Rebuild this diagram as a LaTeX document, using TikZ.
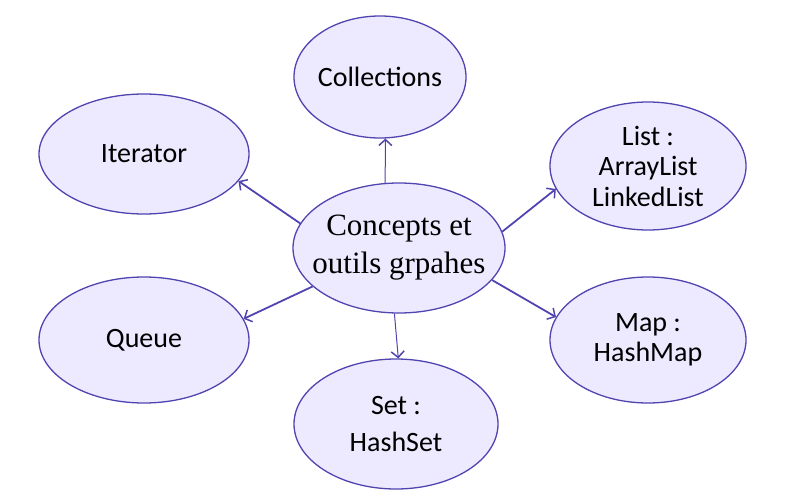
\documentclass[tikz,border=0pt]{standalone}
\usepackage{fontspec}
\setmainfont{Liberation Serif}
\newfontfamily\labfont{Carlito}
\usetikzlibrary{arrows.meta,shapes.geometric}
\definecolor{edgecol}{RGB}{80,68,176}
\definecolor{fillcol}{RGB}{237,233,254}
\begin{document}
\begin{tikzpicture}[x=1pt,y=-1pt,
  ell/.style={ellipse, draw=edgecol, fill=fillcol, line width=1.3pt,
    inner xsep=-40pt, inner ysep=-25pt, align=center},
  lab/.style={ell, font=\labfont\fontsize{28}{30.5}\selectfont},
  arr/.style={draw=edgecol, line width=1.8pt, -{Straight Barb[length=6pt,width=13pt,line width=1.5pt]}},
  arrthin/.style={arr, line width=1pt}]
\useasboundingbox (0,0) rectangle (800,500);
\node[ell, minimum width=212pt, minimum height=130pt,
  font=\fontsize{31}{38}\selectfont] (c) at (399,248) {Concepts et\\outils grpahes};
\node[lab, minimum width=172pt, minimum height=122pt] (col) at (380,77) {Collections};
\node[lab, minimum width=210pt, minimum height=120pt] (it) at (144,154) {Iterator};
\node[lab, minimum width=196pt, minimum height=128pt] (li) at (648,166) {List :\\ArrayList\\LinkedList};
\node[lab, minimum width=210pt, minimum height=126pt] (qu) at (144,340) {Queue};
\node[lab, minimum width=196pt, minimum height=126pt] (ma) at (648,340) {Map :\\HashMap};
\node[lab, minimum width=204pt, minimum height=130pt] (se) at (396,424) {Set :\\[6pt]HashSet};
\draw[arrthin] (c.102) -- (col.-85);
\draw[arr] (c.166) -- (it.-16);
\draw[arr] (c.9) -- (li.-166);
\draw[arr] (c.204) -- (qu.12);
\draw[arr] (c.-19) -- (ma.166);
\draw[arrthin] (c.-94) -- (se.88);
\end{tikzpicture}
\end{document}
